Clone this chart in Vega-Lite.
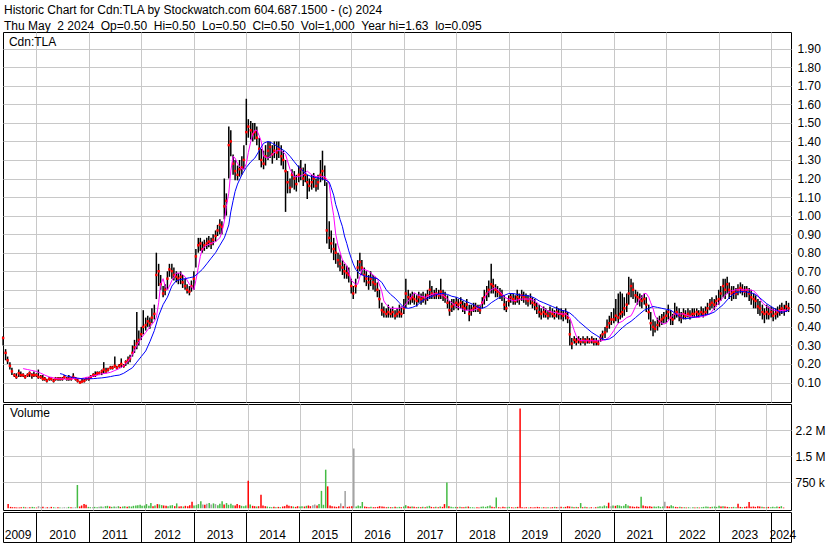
{
"$schema":"https://vega.github.io/schema/vega-lite/v6.json",
"background":"white",
"padding":{"left":1,"top":3,"right":0,"bottom":0},
"title":{"text":["Historic Chart for Cdn:TLA by Stockwatch.com 604.687.1500 - (c) 2024","Thu May\u00a0\u00a02 2024\u00a0\u00a0Op=0.50\u00a0\u00a0Hi=0.50\u00a0\u00a0Lo=0.50\u00a0\u00a0Cl=0.50\u00a0\u00a0Vol=1,000\u00a0\u00a0Year hi=1.63\u00a0\u00a0lo=0.095"],"anchor":"start","frame":"group","font":"Liberation Sans","fontSize":12,"fontWeight":"normal","color":"#000","lineHeight":16,"offset":-1,"dx":1},
"spacing":2,
"bounds":"flush",
"datasets":{
"px":[
{"d":"2009-05-15","h":0.35,"l":0.3,"c":0.34,"v":120,"s":"d"},
{"d":"2009-06-01","h":0.28,"l":0.22,"c":0.26,"v":40,"s":"d"},
{"d":"2009-06-15","h":0.24,"l":0.2,"c":0.22,"v":30,"s":"d"},
{"d":"2009-07-01","h":0.21,"l":0.17,"c":0.19,"v":30,"s":"d"},
{"d":"2009-07-15","h":0.18,"l":0.14,"c":0.16,"v":25,"s":"d"},
{"d":"2009-08-01","h":0.15,"l":0.13,"c":0.14,"v":20,"s":"d"},
{"d":"2009-08-15","h":0.15,"l":0.12,"c":0.13,"v":30,"s":"d"},
{"d":"2009-09-01","h":0.17,"l":0.13,"c":0.15,"v":40,"s":"u"},
{"d":"2009-09-15","h":0.16,"l":0.13,"c":0.14,"v":25,"s":"d"},
{"d":"2009-10-01","h":0.15,"l":0.13,"c":0.14,"v":20,"s":"n"},
{"d":"2009-10-15","h":0.14,"l":0.12,"c":0.13,"v":30,"s":"d"},
{"d":"2009-11-01","h":0.15,"l":0.13,"c":0.14,"v":40,"s":"u"},
{"d":"2009-11-15","h":0.16,"l":0.13,"c":0.15,"v":30,"s":"u"},
{"d":"2009-12-01","h":0.15,"l":0.12,"c":0.14,"v":20,"s":"d"},
{"d":"2009-12-15","h":0.16,"l":0.13,"c":0.14,"v":60,"s":"n"},
{"d":"2010-01-01","h":0.15,"l":0.13,"c":0.14,"v":30,"s":"n"},
{"d":"2010-01-15","h":0.17,"l":0.12,"c":0.13,"v":40,"s":"d"},
{"d":"2010-02-01","h":0.14,"l":0.12,"c":0.13,"v":20,"s":"n"},
{"d":"2010-02-15","h":0.14,"l":0.11,"c":0.12,"v":30,"s":"d"},
{"d":"2010-03-01","h":0.13,"l":0.11,"c":0.12,"v":20,"s":"n"},
{"d":"2010-03-15","h":0.12,"l":0.1,"c":0.11,"v":40,"s":"d"},
{"d":"2010-04-01","h":0.13,"l":0.11,"c":0.12,"v":30,"s":"u"},
{"d":"2010-04-15","h":0.13,"l":0.11,"c":0.12,"v":20,"s":"n"},
{"d":"2010-05-01","h":0.12,"l":0.1,"c":0.11,"v":30,"s":"d"},
{"d":"2010-05-15","h":0.13,"l":0.11,"c":0.12,"v":25,"s":"u"},
{"d":"2010-06-01","h":0.13,"l":0.11,"c":0.12,"v":20,"s":"n"},
{"d":"2010-06-15","h":0.13,"l":0.11,"c":0.12,"v":30,"s":"n"},
{"d":"2010-07-01","h":0.13,"l":0.11,"c":0.12,"v":20,"s":"n"},
{"d":"2010-07-15","h":0.14,"l":0.12,"c":0.13,"v":40,"s":"u"},
{"d":"2010-08-01","h":0.13,"l":0.11,"c":0.12,"v":30,"s":"d"},
{"d":"2010-08-15","h":0.14,"l":0.11,"c":0.12,"v":20,"s":"n"},
{"d":"2010-09-01","h":0.13,"l":0.11,"c":0.12,"v":30,"s":"n"},
{"d":"2010-09-15","h":0.15,"l":0.12,"c":0.13,"v":670,"s":"u"},
{"d":"2010-10-01","h":0.13,"l":0.11,"c":0.12,"v":50,"s":"d"},
{"d":"2010-10-15","h":0.12,"l":0.1,"c":0.11,"v":80,"s":"d"},
{"d":"2010-11-01","h":0.11,"l":0.095,"c":0.1,"v":120,"s":"d"},
{"d":"2010-11-15","h":0.12,"l":0.1,"c":0.105,"v":100,"s":"d"},
{"d":"2010-12-01","h":0.12,"l":0.1,"c":0.11,"v":40,"s":"u"},
{"d":"2010-12-15","h":0.13,"l":0.11,"c":0.12,"v":30,"s":"u"},
{"d":"2011-01-01","h":0.13,"l":0.11,"c":0.12,"v":30,"s":"n"},
{"d":"2011-01-15","h":0.14,"l":0.12,"c":0.13,"v":40,"s":"u"},
{"d":"2011-02-01","h":0.15,"l":0.13,"c":0.14,"v":30,"s":"u"},
{"d":"2011-02-15","h":0.16,"l":0.13,"c":0.14,"v":40,"s":"n"},
{"d":"2011-03-01","h":0.16,"l":0.14,"c":0.15,"v":50,"s":"u"},
{"d":"2011-03-15","h":0.16,"l":0.14,"c":0.15,"v":40,"s":"n"},
{"d":"2011-04-01","h":0.17,"l":0.14,"c":0.16,"v":60,"s":"u"},
{"d":"2011-04-15","h":0.21,"l":0.15,"c":0.17,"v":70,"s":"u"},
{"d":"2011-05-01","h":0.18,"l":0.15,"c":0.16,"v":50,"s":"d"},
{"d":"2011-05-15","h":0.18,"l":0.16,"c":0.17,"v":40,"s":"u"},
{"d":"2011-06-01","h":0.19,"l":0.17,"c":0.18,"v":50,"s":"u"},
{"d":"2011-06-15","h":0.19,"l":0.17,"c":0.18,"v":40,"s":"n"},
{"d":"2011-07-01","h":0.24,"l":0.18,"c":0.19,"v":60,"s":"u"},
{"d":"2011-07-15","h":0.19,"l":0.17,"c":0.18,"v":40,"s":"d"},
{"d":"2011-08-01","h":0.2,"l":0.18,"c":0.19,"v":50,"s":"u"},
{"d":"2011-08-15","h":0.23,"l":0.18,"c":0.2,"v":60,"s":"u"},
{"d":"2011-09-01","h":0.2,"l":0.18,"c":0.19,"v":40,"s":"d"},
{"d":"2011-09-15","h":0.22,"l":0.19,"c":0.21,"v":60,"s":"u"},
{"d":"2011-10-01","h":0.24,"l":0.2,"c":0.22,"v":50,"s":"u"},
{"d":"2011-10-15","h":0.25,"l":0.21,"c":0.23,"v":70,"s":"u"},
{"d":"2011-11-01","h":0.3,"l":0.24,"c":0.26,"v":80,"s":"u"},
{"d":"2011-11-15","h":0.33,"l":0.26,"c":0.29,"v":90,"s":"u"},
{"d":"2011-12-01","h":0.48,"l":0.28,"c":0.31,"v":100,"s":"u"},
{"d":"2011-12-15","h":0.38,"l":0.3,"c":0.33,"v":70,"s":"u"},
{"d":"2012-01-01","h":0.4,"l":0.33,"c":0.36,"v":80,"s":"u"},
{"d":"2012-01-15","h":0.49,"l":0.36,"c":0.4,"v":120,"s":"u"},
{"d":"2012-02-01","h":0.45,"l":0.38,"c":0.41,"v":70,"s":"u"},
{"d":"2012-02-15","h":0.46,"l":0.4,"c":0.43,"v":150,"s":"u"},
{"d":"2012-03-01","h":0.45,"l":0.39,"c":0.42,"v":60,"s":"d"},
{"d":"2012-03-15","h":0.5,"l":0.42,"c":0.45,"v":80,"s":"u"},
{"d":"2012-04-01","h":0.52,"l":0.44,"c":0.47,"v":120,"s":"d"},
{"d":"2012-04-15","h":0.8,"l":0.55,"c":0.68,"v":110,"s":"u"},
{"d":"2012-05-01","h":0.74,"l":0.62,"c":0.7,"v":90,"s":"u"},
{"d":"2012-05-15","h":0.68,"l":0.6,"c":0.63,"v":80,"s":"d"},
{"d":"2012-06-01","h":0.62,"l":0.56,"c":0.58,"v":70,"s":"d"},
{"d":"2012-06-15","h":0.63,"l":0.57,"c":0.6,"v":60,"s":"u"},
{"d":"2012-07-01","h":0.7,"l":0.6,"c":0.66,"v":80,"s":"u"},
{"d":"2012-07-15","h":0.74,"l":0.67,"c":0.71,"v":90,"s":"u"},
{"d":"2012-08-01","h":0.74,"l":0.66,"c":0.7,"v":60,"s":"d"},
{"d":"2012-08-15","h":0.72,"l":0.65,"c":0.68,"v":140,"s":"u"},
{"d":"2012-09-01","h":0.7,"l":0.64,"c":0.67,"v":50,"s":"d"},
{"d":"2012-09-15","h":0.69,"l":0.63,"c":0.66,"v":60,"s":"d"},
{"d":"2012-10-01","h":0.7,"l":0.63,"c":0.67,"v":50,"s":"u"},
{"d":"2012-10-15","h":0.68,"l":0.61,"c":0.64,"v":70,"s":"d"},
{"d":"2012-11-01","h":0.66,"l":0.6,"c":0.62,"v":60,"s":"d"},
{"d":"2012-11-15","h":0.63,"l":0.58,"c":0.6,"v":90,"s":"d"},
{"d":"2012-12-01","h":0.62,"l":0.57,"c":0.59,"v":190,"s":"d"},
{"d":"2012-12-15","h":0.65,"l":0.59,"c":0.62,"v":80,"s":"u"},
{"d":"2013-01-01","h":0.7,"l":0.6,"c":0.66,"v":90,"s":"u"},
{"d":"2013-01-15","h":0.82,"l":0.72,"c":0.78,"v":120,"s":"u"},
{"d":"2013-02-01","h":0.88,"l":0.8,"c":0.84,"v":200,"s":"u"},
{"d":"2013-02-15","h":0.88,"l":0.81,"c":0.85,"v":110,"s":"n"},
{"d":"2013-03-01","h":0.86,"l":0.8,"c":0.82,"v":100,"s":"d"},
{"d":"2013-03-15","h":0.87,"l":0.81,"c":0.84,"v":130,"s":"n"},
{"d":"2013-04-01","h":0.88,"l":0.82,"c":0.85,"v":150,"s":"u"},
{"d":"2013-04-15","h":0.89,"l":0.83,"c":0.86,"v":110,"s":"n"},
{"d":"2013-05-01","h":0.88,"l":0.82,"c":0.85,"v":140,"s":"u"},
{"d":"2013-05-15","h":0.9,"l":0.84,"c":0.87,"v":120,"s":"n"},
{"d":"2013-06-01","h":0.92,"l":0.86,"c":0.89,"v":90,"s":"u"},
{"d":"2013-06-15","h":0.95,"l":0.89,"c":0.92,"v":130,"s":"u"},
{"d":"2013-07-01","h":0.98,"l":0.9,"c":0.95,"v":200,"s":"u"},
{"d":"2013-07-15","h":0.97,"l":0.9,"c":0.94,"v":110,"s":"d"},
{"d":"2013-08-01","h":1.2,"l":0.98,"c":1.05,"v":150,"s":"u"},
{"d":"2013-08-15","h":1.12,"l":1.0,"c":1.08,"v":100,"s":"u"},
{"d":"2013-09-01","h":1.48,"l":1.2,"c":1.38,"v":130,"s":"u"},
{"d":"2013-09-15","h":1.46,"l":1.32,"c":1.4,"v":90,"s":"u"},
{"d":"2013-10-01","h":1.33,"l":1.22,"c":1.28,"v":80,"s":"d"},
{"d":"2013-10-15","h":1.3,"l":1.19,"c":1.24,"v":120,"s":"d"},
{"d":"2013-11-01","h":1.27,"l":1.19,"c":1.22,"v":90,"s":"d"},
{"d":"2013-11-15","h":1.3,"l":1.21,"c":1.25,"v":70,"s":"u"},
{"d":"2013-12-01","h":1.32,"l":1.22,"c":1.26,"v":60,"s":"u"},
{"d":"2013-12-15","h":1.38,"l":1.25,"c":1.3,"v":80,"s":"u"},
{"d":"2014-01-01","h":1.63,"l":1.38,"c":1.45,"v":790,"s":"d"},
{"d":"2014-01-15","h":1.52,"l":1.42,"c":1.48,"v":110,"s":"u"},
{"d":"2014-02-01","h":1.51,"l":1.41,"c":1.46,"v":70,"s":"d"},
{"d":"2014-02-15","h":1.5,"l":1.4,"c":1.44,"v":60,"s":"d"},
{"d":"2014-03-01","h":1.5,"l":1.41,"c":1.45,"v":50,"s":"u"},
{"d":"2014-03-15","h":1.48,"l":1.38,"c":1.42,"v":60,"s":"d"},
{"d":"2014-04-01","h":1.42,"l":1.3,"c":1.36,"v":390,"s":"d"},
{"d":"2014-04-15","h":1.36,"l":1.26,"c":1.3,"v":80,"s":"d"},
{"d":"2014-05-01","h":1.35,"l":1.25,"c":1.28,"v":60,"s":"d"},
{"d":"2014-05-15","h":1.38,"l":1.27,"c":1.32,"v":50,"s":"u"},
{"d":"2014-06-01","h":1.4,"l":1.3,"c":1.35,"v":40,"s":"u"},
{"d":"2014-06-15","h":1.4,"l":1.31,"c":1.37,"v":30,"s":"u"},
{"d":"2014-07-01","h":1.38,"l":1.28,"c":1.33,"v":40,"s":"d"},
{"d":"2014-07-15","h":1.4,"l":1.31,"c":1.35,"v":30,"s":"u"},
{"d":"2014-08-01","h":1.4,"l":1.3,"c":1.34,"v":40,"s":"d"},
{"d":"2014-08-15","h":1.4,"l":1.31,"c":1.36,"v":30,"s":"u"},
{"d":"2014-09-01","h":1.38,"l":1.27,"c":1.32,"v":50,"s":"d"},
{"d":"2014-09-15","h":1.35,"l":1.25,"c":1.3,"v":60,"s":"d"},
{"d":"2014-10-01","h":1.3,"l":1.02,"c":1.24,"v":100,"s":"d"},
{"d":"2014-10-15","h":1.24,"l":1.12,"c":1.18,"v":70,"s":"d"},
{"d":"2014-11-01","h":1.2,"l":1.12,"c":1.15,"v":60,"s":"d"},
{"d":"2014-11-15","h":1.25,"l":1.15,"c":1.22,"v":50,"s":"u"},
{"d":"2014-12-01","h":1.24,"l":1.14,"c":1.2,"v":40,"s":"d"},
{"d":"2014-12-15","h":1.22,"l":1.13,"c":1.17,"v":60,"s":"d"},
{"d":"2015-01-01","h":1.27,"l":1.18,"c":1.22,"v":50,"s":"u"},
{"d":"2015-01-15","h":1.3,"l":1.19,"c":1.25,"v":60,"s":"u"},
{"d":"2015-02-01","h":1.26,"l":1.16,"c":1.2,"v":50,"s":"d"},
{"d":"2015-02-15","h":1.28,"l":1.18,"c":1.22,"v":70,"s":"u"},
{"d":"2015-03-01","h":1.22,"l":1.09,"c":1.18,"v":80,"s":"d"},
{"d":"2015-03-15","h":1.2,"l":1.13,"c":1.16,"v":60,"s":"d"},
{"d":"2015-04-01","h":1.22,"l":1.14,"c":1.18,"v":90,"s":"n"},
{"d":"2015-04-15","h":1.23,"l":1.15,"c":1.2,"v":110,"s":"n"},
{"d":"2015-05-01","h":1.2,"l":1.13,"c":1.16,"v":80,"s":"d"},
{"d":"2015-05-15","h":1.22,"l":1.14,"c":1.18,"v":120,"s":"u"},
{"d":"2015-06-01","h":1.3,"l":1.18,"c":1.22,"v":500,"s":"u"},
{"d":"2015-06-15","h":1.35,"l":1.19,"c":1.24,"v":100,"s":"u"},
{"d":"2015-07-01","h":1.27,"l":1.16,"c":1.2,"v":1110,"s":"u"},
{"d":"2015-07-15","h":1.18,"l":0.85,"c":0.92,"v":630,"s":"d"},
{"d":"2015-08-01","h":0.97,"l":0.82,"c":0.88,"v":80,"s":"d"},
{"d":"2015-08-15","h":0.92,"l":0.8,"c":0.85,"v":60,"s":"d"},
{"d":"2015-09-01","h":0.88,"l":0.76,"c":0.82,"v":50,"s":"d"},
{"d":"2015-09-15","h":0.85,"l":0.74,"c":0.8,"v":40,"s":"d"},
{"d":"2015-10-01","h":0.8,"l":0.72,"c":0.76,"v":60,"s":"d"},
{"d":"2015-10-15","h":0.79,"l":0.7,"c":0.74,"v":140,"s":"n"},
{"d":"2015-11-01","h":0.76,"l":0.68,"c":0.72,"v":60,"s":"d"},
{"d":"2015-11-15","h":0.74,"l":0.66,"c":0.7,"v":500,"s":"n"},
{"d":"2015-12-01","h":0.73,"l":0.66,"c":0.69,"v":40,"s":"d"},
{"d":"2015-12-15","h":0.72,"l":0.64,"c":0.68,"v":50,"s":"d"},
{"d":"2016-01-01","h":0.66,"l":0.58,"c":0.62,"v":60,"s":"d"},
{"d":"2016-01-15","h":0.62,"l":0.55,"c":0.58,"v":1720,"s":"n"},
{"d":"2016-02-01","h":0.66,"l":0.58,"c":0.62,"v":50,"s":"u"},
{"d":"2016-02-15","h":0.76,"l":0.66,"c":0.72,"v":80,"s":"u"},
{"d":"2016-03-01","h":0.8,"l":0.7,"c":0.75,"v":60,"s":"u"},
{"d":"2016-03-15","h":0.76,"l":0.68,"c":0.72,"v":180,"s":"u"},
{"d":"2016-04-01","h":0.72,"l":0.64,"c":0.68,"v":50,"s":"d"},
{"d":"2016-04-15","h":0.7,"l":0.62,"c":0.66,"v":40,"s":"d"},
{"d":"2016-05-01","h":0.68,"l":0.6,"c":0.64,"v":30,"s":"d"},
{"d":"2016-05-15","h":0.7,"l":0.62,"c":0.66,"v":40,"s":"u"},
{"d":"2016-06-01","h":0.68,"l":0.6,"c":0.64,"v":30,"s":"d"},
{"d":"2016-06-15","h":0.67,"l":0.59,"c":0.63,"v":30,"s":"d"},
{"d":"2016-07-01","h":0.64,"l":0.56,"c":0.6,"v":40,"s":"d"},
{"d":"2016-07-15","h":0.6,"l":0.5,"c":0.55,"v":60,"s":"d"},
{"d":"2016-08-01","h":0.53,"l":0.46,"c":0.49,"v":50,"s":"d"},
{"d":"2016-08-15","h":0.51,"l":0.45,"c":0.48,"v":40,"s":"d"},
{"d":"2016-09-01","h":0.5,"l":0.45,"c":0.47,"v":30,"s":"d"},
{"d":"2016-09-15","h":0.52,"l":0.45,"c":0.48,"v":40,"s":"u"},
{"d":"2016-10-01","h":0.5,"l":0.45,"c":0.47,"v":30,"s":"d"},
{"d":"2016-10-15","h":0.51,"l":0.45,"c":0.48,"v":30,"s":"u"},
{"d":"2016-11-01","h":0.49,"l":0.44,"c":0.46,"v":40,"s":"d"},
{"d":"2016-11-15","h":0.5,"l":0.45,"c":0.47,"v":30,"s":"u"},
{"d":"2016-12-01","h":0.52,"l":0.45,"c":0.48,"v":40,"s":"u"},
{"d":"2016-12-15","h":0.51,"l":0.45,"c":0.47,"v":30,"s":"d"},
{"d":"2017-01-01","h":0.55,"l":0.47,"c":0.5,"v":50,"s":"u"},
{"d":"2017-01-15","h":0.66,"l":0.5,"c":0.58,"v":90,"s":"u"},
{"d":"2017-02-01","h":0.6,"l":0.52,"c":0.56,"v":60,"s":"d"},
{"d":"2017-02-15","h":0.58,"l":0.52,"c":0.55,"v":40,"s":"d"},
{"d":"2017-03-01","h":0.59,"l":0.53,"c":0.56,"v":50,"s":"u"},
{"d":"2017-03-15","h":0.58,"l":0.52,"c":0.55,"v":40,"s":"d"},
{"d":"2017-04-01","h":0.57,"l":0.51,"c":0.54,"v":30,"s":"d"},
{"d":"2017-04-15","h":0.59,"l":0.53,"c":0.56,"v":40,"s":"u"},
{"d":"2017-05-01","h":0.58,"l":0.52,"c":0.55,"v":30,"s":"d"},
{"d":"2017-05-15","h":0.59,"l":0.53,"c":0.56,"v":40,"s":"u"},
{"d":"2017-06-01","h":0.58,"l":0.52,"c":0.55,"v":30,"s":"d"},
{"d":"2017-06-15","h":0.6,"l":0.54,"c":0.57,"v":50,"s":"u"},
{"d":"2017-07-01","h":0.65,"l":0.55,"c":0.6,"v":70,"s":"u"},
{"d":"2017-07-15","h":0.62,"l":0.55,"c":0.58,"v":40,"s":"d"},
{"d":"2017-08-01","h":0.6,"l":0.55,"c":0.57,"v":30,"s":"d"},
{"d":"2017-08-15","h":0.61,"l":0.55,"c":0.58,"v":40,"s":"u"},
{"d":"2017-09-01","h":0.6,"l":0.55,"c":0.57,"v":30,"s":"d"},
{"d":"2017-09-15","h":0.66,"l":0.55,"c":0.59,"v":50,"s":"u"},
{"d":"2017-10-01","h":0.6,"l":0.54,"c":0.57,"v":40,"s":"d"},
{"d":"2017-10-15","h":0.59,"l":0.53,"c":0.56,"v":120,"s":"d"},
{"d":"2017-11-01","h":0.57,"l":0.5,"c":0.53,"v":740,"s":"u"},
{"d":"2017-11-15","h":0.54,"l":0.46,"c":0.49,"v":60,"s":"d"},
{"d":"2017-12-01","h":0.55,"l":0.48,"c":0.51,"v":40,"s":"u"},
{"d":"2017-12-15","h":0.55,"l":0.49,"c":0.52,"v":30,"s":"u"},
{"d":"2018-01-01","h":0.56,"l":0.5,"c":0.53,"v":40,"s":"u"},
{"d":"2018-01-15","h":0.55,"l":0.49,"c":0.52,"v":30,"s":"d"},
{"d":"2018-02-01","h":0.56,"l":0.5,"c":0.53,"v":40,"s":"u"},
{"d":"2018-02-15","h":0.54,"l":0.48,"c":0.51,"v":30,"s":"d"},
{"d":"2018-03-01","h":0.53,"l":0.47,"c":0.5,"v":30,"s":"d"},
{"d":"2018-03-15","h":0.55,"l":0.49,"c":0.52,"v":40,"s":"u"},
{"d":"2018-04-01","h":0.52,"l":0.43,"c":0.47,"v":50,"s":"d"},
{"d":"2018-04-15","h":0.52,"l":0.46,"c":0.49,"v":30,"s":"u"},
{"d":"2018-05-01","h":0.53,"l":0.48,"c":0.5,"v":30,"s":"u"},
{"d":"2018-05-15","h":0.53,"l":0.48,"c":0.51,"v":20,"s":"u"},
{"d":"2018-06-01","h":0.52,"l":0.48,"c":0.5,"v":30,"s":"d"},
{"d":"2018-06-15","h":0.52,"l":0.47,"c":0.49,"v":20,"s":"d"},
{"d":"2018-07-01","h":0.56,"l":0.5,"c":0.53,"v":40,"s":"u"},
{"d":"2018-07-15","h":0.6,"l":0.52,"c":0.56,"v":50,"s":"u"},
{"d":"2018-08-01","h":0.62,"l":0.54,"c":0.58,"v":40,"s":"u"},
{"d":"2018-08-15","h":0.65,"l":0.56,"c":0.6,"v":60,"s":"u"},
{"d":"2018-09-01","h":0.74,"l":0.58,"c":0.63,"v":80,"s":"u"},
{"d":"2018-09-15","h":0.66,"l":0.58,"c":0.62,"v":40,"s":"d"},
{"d":"2018-10-01","h":0.63,"l":0.56,"c":0.6,"v":30,"s":"d"},
{"d":"2018-10-15","h":0.62,"l":0.56,"c":0.59,"v":310,"s":"u"},
{"d":"2018-11-01","h":0.61,"l":0.55,"c":0.58,"v":30,"s":"d"},
{"d":"2018-11-15","h":0.6,"l":0.54,"c":0.57,"v":20,"s":"d"},
{"d":"2018-12-01","h":0.57,"l":0.49,"c":0.52,"v":40,"s":"d"},
{"d":"2018-12-15","h":0.54,"l":0.48,"c":0.5,"v":30,"s":"d"},
{"d":"2019-01-01","h":0.57,"l":0.51,"c":0.54,"v":30,"s":"u"},
{"d":"2019-01-15","h":0.58,"l":0.53,"c":0.56,"v":40,"s":"u"},
{"d":"2019-02-01","h":0.58,"l":0.52,"c":0.55,"v":30,"s":"d"},
{"d":"2019-02-15","h":0.57,"l":0.52,"c":0.54,"v":20,"s":"d"},
{"d":"2019-03-01","h":0.6,"l":0.53,"c":0.56,"v":30,"s":"u"},
{"d":"2019-03-15","h":0.58,"l":0.52,"c":0.55,"v":40,"s":"d"},
{"d":"2019-04-01","h":0.6,"l":0.54,"c":0.57,"v":2870,"s":"d"},
{"d":"2019-04-15","h":0.59,"l":0.53,"c":0.56,"v":30,"s":"d"},
{"d":"2019-05-01","h":0.58,"l":0.52,"c":0.55,"v":20,"s":"d"},
{"d":"2019-05-15","h":0.57,"l":0.51,"c":0.54,"v":30,"s":"d"},
{"d":"2019-06-01","h":0.58,"l":0.52,"c":0.55,"v":20,"s":"u"},
{"d":"2019-06-15","h":0.56,"l":0.5,"c":0.53,"v":30,"s":"d"},
{"d":"2019-07-01","h":0.55,"l":0.49,"c":0.52,"v":20,"s":"d"},
{"d":"2019-07-15","h":0.53,"l":0.47,"c":0.5,"v":30,"s":"d"},
{"d":"2019-08-01","h":0.52,"l":0.45,"c":0.48,"v":40,"s":"d"},
{"d":"2019-08-15","h":0.5,"l":0.44,"c":0.47,"v":30,"s":"d"},
{"d":"2019-09-01","h":0.51,"l":0.45,"c":0.48,"v":20,"s":"u"},
{"d":"2019-09-15","h":0.5,"l":0.45,"c":0.47,"v":30,"s":"d"},
{"d":"2019-10-01","h":0.49,"l":0.44,"c":0.46,"v":20,"s":"d"},
{"d":"2019-10-15","h":0.51,"l":0.45,"c":0.48,"v":30,"s":"u"},
{"d":"2019-11-01","h":0.5,"l":0.45,"c":0.47,"v":20,"s":"d"},
{"d":"2019-11-15","h":0.49,"l":0.44,"c":0.46,"v":30,"s":"d"},
{"d":"2019-12-01","h":0.51,"l":0.45,"c":0.48,"v":40,"s":"u"},
{"d":"2019-12-15","h":0.5,"l":0.44,"c":0.47,"v":30,"s":"d"},
{"d":"2020-01-01","h":0.5,"l":0.44,"c":0.47,"v":30,"s":"n"},
{"d":"2020-01-15","h":0.49,"l":0.43,"c":0.46,"v":40,"s":"d"},
{"d":"2020-02-01","h":0.5,"l":0.44,"c":0.47,"v":30,"s":"u"},
{"d":"2020-02-15","h":0.48,"l":0.42,"c":0.45,"v":40,"s":"d"},
{"d":"2020-03-01","h":0.44,"l":0.3,"c":0.36,"v":60,"s":"d"},
{"d":"2020-03-15","h":0.34,"l":0.28,"c":0.31,"v":50,"s":"d"},
{"d":"2020-04-01","h":0.35,"l":0.31,"c":0.33,"v":40,"s":"u"},
{"d":"2020-04-15","h":0.34,"l":0.3,"c":0.32,"v":30,"s":"d"},
{"d":"2020-05-01","h":0.35,"l":0.31,"c":0.33,"v":40,"s":"u"},
{"d":"2020-05-15","h":0.34,"l":0.3,"c":0.32,"v":30,"s":"d"},
{"d":"2020-06-01","h":0.35,"l":0.31,"c":0.33,"v":150,"s":"u"},
{"d":"2020-06-15","h":0.34,"l":0.3,"c":0.32,"v":30,"s":"d"},
{"d":"2020-07-01","h":0.35,"l":0.31,"c":0.33,"v":40,"s":"u"},
{"d":"2020-07-15","h":0.34,"l":0.31,"c":0.32,"v":30,"s":"d"},
{"d":"2020-08-01","h":0.35,"l":0.31,"c":0.33,"v":20,"s":"u"},
{"d":"2020-08-15","h":0.34,"l":0.3,"c":0.32,"v":30,"s":"d"},
{"d":"2020-09-01","h":0.34,"l":0.3,"c":0.32,"v":20,"s":"n"},
{"d":"2020-09-15","h":0.33,"l":0.3,"c":0.31,"v":30,"s":"d"},
{"d":"2020-10-01","h":0.36,"l":0.32,"c":0.34,"v":40,"s":"u"},
{"d":"2020-10-15","h":0.38,"l":0.33,"c":0.36,"v":60,"s":"u"},
{"d":"2020-11-01","h":0.4,"l":0.34,"c":0.37,"v":50,"s":"u"},
{"d":"2020-11-15","h":0.44,"l":0.37,"c":0.4,"v":80,"s":"u"},
{"d":"2020-12-01","h":0.46,"l":0.39,"c":0.42,"v":60,"s":"u"},
{"d":"2020-12-15","h":0.48,"l":0.41,"c":0.44,"v":160,"s":"d"},
{"d":"2021-01-01","h":0.5,"l":0.42,"c":0.44,"v":60,"s":"n"},
{"d":"2021-01-15","h":0.55,"l":0.43,"c":0.46,"v":80,"s":"u"},
{"d":"2021-02-01","h":0.58,"l":0.42,"c":0.45,"v":70,"s":"d"},
{"d":"2021-02-15","h":0.59,"l":0.44,"c":0.47,"v":90,"s":"u"},
{"d":"2021-03-01","h":0.58,"l":0.45,"c":0.48,"v":80,"s":"u"},
{"d":"2021-03-15","h":0.56,"l":0.46,"c":0.5,"v":60,"s":"u"},
{"d":"2021-04-01","h":0.58,"l":0.48,"c":0.52,"v":70,"s":"u"},
{"d":"2021-04-15","h":0.67,"l":0.52,"c":0.58,"v":120,"s":"u"},
{"d":"2021-05-01","h":0.66,"l":0.56,"c":0.62,"v":80,"s":"u"},
{"d":"2021-05-15","h":0.64,"l":0.55,"c":0.6,"v":60,"s":"d"},
{"d":"2021-06-01","h":0.6,"l":0.53,"c":0.57,"v":50,"s":"d"},
{"d":"2021-06-15","h":0.59,"l":0.52,"c":0.56,"v":40,"s":"d"},
{"d":"2021-07-01","h":0.58,"l":0.51,"c":0.55,"v":50,"s":"d"},
{"d":"2021-07-15","h":0.57,"l":0.5,"c":0.54,"v":40,"s":"d"},
{"d":"2021-08-01","h":0.58,"l":0.52,"c":0.55,"v":330,"s":"u"},
{"d":"2021-08-15","h":0.56,"l":0.48,"c":0.52,"v":80,"s":"d"},
{"d":"2021-09-01","h":0.52,"l":0.44,"c":0.48,"v":60,"s":"d"},
{"d":"2021-09-15","h":0.48,"l":0.38,"c":0.42,"v":50,"s":"d"},
{"d":"2021-10-01","h":0.44,"l":0.35,"c":0.4,"v":60,"s":"d"},
{"d":"2021-10-15","h":0.43,"l":0.37,"c":0.39,"v":40,"s":"d"},
{"d":"2021-11-01","h":0.45,"l":0.38,"c":0.41,"v":50,"s":"u"},
{"d":"2021-11-15","h":0.46,"l":0.4,"c":0.43,"v":40,"s":"u"},
{"d":"2021-12-01","h":0.47,"l":0.41,"c":0.44,"v":60,"s":"u"},
{"d":"2021-12-15","h":0.48,"l":0.42,"c":0.45,"v":40,"s":"u"},
{"d":"2022-01-01","h":0.49,"l":0.42,"c":0.46,"v":50,"s":"u"},
{"d":"2022-01-15","h":0.52,"l":0.44,"c":0.48,"v":190,"s":"n"},
{"d":"2022-02-01","h":0.49,"l":0.41,"c":0.45,"v":60,"s":"d"},
{"d":"2022-02-15","h":0.47,"l":0.41,"c":0.44,"v":50,"s":"d"},
{"d":"2022-03-01","h":0.53,"l":0.44,"c":0.47,"v":90,"s":"u"},
{"d":"2022-03-15","h":0.51,"l":0.45,"c":0.48,"v":60,"s":"u"},
{"d":"2022-04-01","h":0.5,"l":0.43,"c":0.46,"v":40,"s":"d"},
{"d":"2022-04-15","h":0.48,"l":0.42,"c":0.45,"v":30,"s":"d"},
{"d":"2022-05-01","h":0.5,"l":0.44,"c":0.47,"v":40,"s":"u"},
{"d":"2022-05-15","h":0.49,"l":0.44,"c":0.46,"v":30,"s":"d"},
{"d":"2022-06-01","h":0.5,"l":0.45,"c":0.47,"v":30,"s":"u"},
{"d":"2022-06-15","h":0.49,"l":0.44,"c":0.46,"v":20,"s":"d"},
{"d":"2022-07-01","h":0.5,"l":0.45,"c":0.47,"v":30,"s":"u"},
{"d":"2022-07-15","h":0.5,"l":0.45,"c":0.47,"v":20,"s":"n"},
{"d":"2022-08-01","h":0.5,"l":0.45,"c":0.48,"v":30,"s":"u"},
{"d":"2022-08-15","h":0.49,"l":0.45,"c":0.47,"v":20,"s":"d"},
{"d":"2022-09-01","h":0.51,"l":0.46,"c":0.48,"v":30,"s":"u"},
{"d":"2022-09-15","h":0.5,"l":0.45,"c":0.47,"v":20,"s":"d"},
{"d":"2022-10-01","h":0.51,"l":0.46,"c":0.48,"v":30,"s":"u"},
{"d":"2022-10-15","h":0.53,"l":0.47,"c":0.5,"v":40,"s":"u"},
{"d":"2022-11-01","h":0.55,"l":0.49,"c":0.52,"v":50,"s":"u"},
{"d":"2022-11-15","h":0.56,"l":0.5,"c":0.53,"v":40,"s":"u"},
{"d":"2022-12-01","h":0.55,"l":0.49,"c":0.52,"v":30,"s":"d"},
{"d":"2022-12-15","h":0.57,"l":0.51,"c":0.54,"v":40,"s":"u"},
{"d":"2023-01-01","h":0.6,"l":0.52,"c":0.55,"v":50,"s":"u"},
{"d":"2023-01-15","h":0.62,"l":0.54,"c":0.58,"v":40,"s":"u"},
{"d":"2023-02-01","h":0.66,"l":0.56,"c":0.62,"v":70,"s":"u"},
{"d":"2023-02-15","h":0.66,"l":0.55,"c":0.6,"v":50,"s":"d"},
{"d":"2023-03-01","h":0.67,"l":0.58,"c":0.63,"v":60,"s":"u"},
{"d":"2023-03-15","h":0.64,"l":0.55,"c":0.6,"v":50,"s":"d"},
{"d":"2023-04-01","h":0.62,"l":0.54,"c":0.58,"v":40,"s":"d"},
{"d":"2023-04-15","h":0.62,"l":0.55,"c":0.59,"v":30,"s":"u"},
{"d":"2023-05-01","h":0.61,"l":0.55,"c":0.58,"v":30,"s":"d"},
{"d":"2023-05-15","h":0.63,"l":0.57,"c":0.6,"v":40,"s":"u"},
{"d":"2023-06-01","h":0.64,"l":0.58,"c":0.61,"v":30,"s":"u"},
{"d":"2023-06-15","h":0.63,"l":0.57,"c":0.6,"v":130,"s":"d"},
{"d":"2023-07-01","h":0.62,"l":0.56,"c":0.59,"v":40,"s":"d"},
{"d":"2023-07-15","h":0.62,"l":0.56,"c":0.6,"v":30,"s":"u"},
{"d":"2023-08-01","h":0.61,"l":0.54,"c":0.58,"v":40,"s":"d"},
{"d":"2023-08-15","h":0.6,"l":0.52,"c":0.56,"v":50,"s":"d"},
{"d":"2023-09-01","h":0.58,"l":0.5,"c":0.55,"v":180,"s":"d"},
{"d":"2023-09-15","h":0.57,"l":0.5,"c":0.54,"v":40,"s":"d"},
{"d":"2023-10-01","h":0.55,"l":0.47,"c":0.51,"v":50,"s":"d"},
{"d":"2023-10-15","h":0.54,"l":0.46,"c":0.5,"v":40,"s":"d"},
{"d":"2023-11-01","h":0.52,"l":0.44,"c":0.48,"v":60,"s":"d"},
{"d":"2023-11-15","h":0.5,"l":0.42,"c":0.47,"v":50,"s":"d"},
{"d":"2023-12-01","h":0.52,"l":0.44,"c":0.48,"v":40,"s":"u"},
{"d":"2023-12-15","h":0.51,"l":0.44,"c":0.47,"v":30,"s":"d"},
{"d":"2024-01-01","h":0.51,"l":0.45,"c":0.48,"v":30,"s":"u"},
{"d":"2024-01-15","h":0.5,"l":0.43,"c":0.46,"v":40,"s":"d"},
{"d":"2024-02-01","h":0.5,"l":0.44,"c":0.47,"v":30,"s":"u"},
{"d":"2024-02-15","h":0.51,"l":0.45,"c":0.48,"v":40,"s":"u"},
{"d":"2024-03-01","h":0.52,"l":0.46,"c":0.49,"v":30,"s":"u"},
{"d":"2024-03-15","h":0.53,"l":0.47,"c":0.5,"v":50,"s":"u"},
{"d":"2024-04-01","h":0.52,"l":0.46,"c":0.49,"v":40,"s":"d"},
{"d":"2024-04-15","h":0.54,"l":0.48,"c":0.51,"v":60,"s":"u"},
{"d":"2024-05-01","h":0.53,"l":0.48,"c":0.5,"v":20,"s":"d"}
],
"mag":[
{"d":"2009-10-01","v":0.175},{"d":"2009-11-01","v":0.17},{"d":"2009-12-01","v":0.165},
{"d":"2010-01-01","v":0.16},{"d":"2010-02-01","v":0.15},{"d":"2010-03-01","v":0.14},{"d":"2010-04-01","v":0.13},{"d":"2010-05-01","v":0.125},{"d":"2010-06-01","v":0.12},{"d":"2010-07-01","v":0.12},{"d":"2010-08-01","v":0.118},{"d":"2010-09-01","v":0.12},{"d":"2010-10-01","v":0.122},{"d":"2010-11-01","v":0.12},{"d":"2010-12-01","v":0.125},
{"d":"2011-01-01","v":0.13},{"d":"2011-02-01","v":0.135},{"d":"2011-03-01","v":0.14},{"d":"2011-04-01","v":0.147},{"d":"2011-05-01","v":0.15},{"d":"2011-06-01","v":0.155},{"d":"2011-07-01","v":0.165},{"d":"2011-08-01","v":0.175},{"d":"2011-09-01","v":0.19},{"d":"2011-10-01","v":0.215},{"d":"2011-11-01","v":0.25},{"d":"2011-12-01","v":0.3},
{"d":"2012-01-01","v":0.34},{"d":"2012-02-01","v":0.37},{"d":"2012-03-01","v":0.4},{"d":"2012-04-01","v":0.43},{"d":"2012-04-15","v":0.45},{"d":"2012-05-01","v":0.53},{"d":"2012-05-15","v":0.63},{"d":"2012-06-01","v":0.66},{"d":"2012-06-15","v":0.62},{"d":"2012-07-01","v":0.6},{"d":"2012-07-15","v":0.62},{"d":"2012-08-01","v":0.65},{"d":"2012-09-01","v":0.69},{"d":"2012-10-01","v":0.69},{"d":"2012-11-01","v":0.67},{"d":"2012-12-01","v":0.63},
{"d":"2013-01-01","v":0.6},{"d":"2013-01-15","v":0.65},{"d":"2013-02-01","v":0.72},{"d":"2013-02-15","v":0.78},{"d":"2013-03-01","v":0.82},{"d":"2013-04-01","v":0.84},{"d":"2013-05-01","v":0.85},{"d":"2013-06-01","v":0.86},{"d":"2013-07-01","v":0.88},{"d":"2013-07-15","v":0.91},{"d":"2013-08-01","v":0.97},{"d":"2013-08-15","v":1.05},{"d":"2013-09-01","v":1.12},{"d":"2013-09-15","v":1.24},{"d":"2013-10-01","v":1.32},{"d":"2013-10-15","v":1.31},{"d":"2013-11-01","v":1.28},{"d":"2013-12-01","v":1.25},{"d":"2013-12-15","v":1.25},
{"d":"2014-01-01","v":1.28},{"d":"2014-01-15","v":1.34},{"d":"2014-02-01","v":1.4},{"d":"2014-02-15","v":1.44},{"d":"2014-03-01","v":1.46},{"d":"2014-03-15","v":1.46},{"d":"2014-04-01","v":1.43},{"d":"2014-04-15","v":1.4},{"d":"2014-05-01","v":1.32},{"d":"2014-06-01","v":1.31},{"d":"2014-07-01","v":1.33},{"d":"2014-08-01","v":1.35},{"d":"2014-09-01","v":1.35},{"d":"2014-10-01","v":1.33},{"d":"2014-11-01","v":1.25},{"d":"2014-12-01","v":1.21},
{"d":"2015-01-01","v":1.21},{"d":"2015-02-01","v":1.22},{"d":"2015-03-01","v":1.24},{"d":"2015-04-01","v":1.22},{"d":"2015-05-01","v":1.21},{"d":"2015-06-01","v":1.21},{"d":"2015-07-01","v":1.21},{"d":"2015-07-20","v":1.19},{"d":"2015-08-01","v":1.17},{"d":"2015-08-15","v":1.08},{"d":"2015-09-01","v":1.0},{"d":"2015-09-15","v":0.9},{"d":"2015-10-01","v":0.84},{"d":"2015-11-01","v":0.76},{"d":"2015-12-01","v":0.73},
{"d":"2016-01-01","v":0.65},{"d":"2016-02-01","v":0.63},{"d":"2016-02-15","v":0.63},{"d":"2016-03-01","v":0.67},{"d":"2016-03-15","v":0.71},{"d":"2016-04-01","v":0.71},{"d":"2016-05-01","v":0.7},{"d":"2016-06-01","v":0.68},{"d":"2016-07-01","v":0.66},{"d":"2016-08-01","v":0.59},{"d":"2016-08-15","v":0.54},{"d":"2016-09-01","v":0.52},{"d":"2016-10-01","v":0.5},{"d":"2016-11-01","v":0.5},{"d":"2016-12-01","v":0.5},
{"d":"2017-01-01","v":0.51},{"d":"2017-02-01","v":0.54},{"d":"2017-03-01","v":0.57},{"d":"2017-03-15","v":0.585},{"d":"2017-04-01","v":0.575},{"d":"2017-05-01","v":0.565},{"d":"2017-06-01","v":0.56},{"d":"2017-07-01","v":0.57},{"d":"2017-08-01","v":0.58},{"d":"2017-09-01","v":0.575},{"d":"2017-10-01","v":0.57},{"d":"2017-11-01","v":0.55},{"d":"2017-12-01","v":0.53},
{"d":"2018-01-01","v":0.51},{"d":"2018-02-01","v":0.5},{"d":"2018-03-01","v":0.49},{"d":"2018-04-01","v":0.49},{"d":"2018-05-01","v":0.49},{"d":"2018-06-01","v":0.5},{"d":"2018-07-01","v":0.53},{"d":"2018-08-01","v":0.58},{"d":"2018-09-01","v":0.6},{"d":"2018-10-01","v":0.61},{"d":"2018-11-01","v":0.59},{"d":"2018-12-01","v":0.56},
{"d":"2019-01-01","v":0.55},{"d":"2019-02-01","v":0.54},{"d":"2019-03-01","v":0.545},{"d":"2019-04-01","v":0.55},{"d":"2019-05-01","v":0.55},{"d":"2019-06-01","v":0.55},{"d":"2019-07-01","v":0.54},{"d":"2019-08-01","v":0.52},{"d":"2019-09-01","v":0.5},{"d":"2019-10-01","v":0.485},{"d":"2019-11-01","v":0.48},{"d":"2019-12-01","v":0.475},
{"d":"2020-01-01","v":0.47},{"d":"2020-02-01","v":0.47},{"d":"2020-03-01","v":0.45},{"d":"2020-03-15","v":0.42},{"d":"2020-04-01","v":0.38},{"d":"2020-04-15","v":0.35},{"d":"2020-05-01","v":0.33},{"d":"2020-06-01","v":0.325},{"d":"2020-07-01","v":0.325},{"d":"2020-08-01","v":0.325},{"d":"2020-09-01","v":0.325},{"d":"2020-10-01","v":0.325},{"d":"2020-11-01","v":0.33},{"d":"2020-12-01","v":0.345},
{"d":"2021-01-01","v":0.38},{"d":"2021-01-15","v":0.4},{"d":"2021-02-01","v":0.42},{"d":"2021-03-01","v":0.43},{"d":"2021-04-01","v":0.45},{"d":"2021-05-01","v":0.46},{"d":"2021-05-15","v":0.48},{"d":"2021-06-01","v":0.51},{"d":"2021-06-15","v":0.53},{"d":"2021-07-01","v":0.55},{"d":"2021-07-15","v":0.56},{"d":"2021-08-01","v":0.58},{"d":"2021-08-15","v":0.58},{"d":"2021-09-01","v":0.56},{"d":"2021-09-15","v":0.53},{"d":"2021-10-01","v":0.5},{"d":"2021-10-15","v":0.46},{"d":"2021-11-01","v":0.44},{"d":"2021-11-15","v":0.43},{"d":"2021-12-01","v":0.42},{"d":"2021-12-15","v":0.415},
{"d":"2022-01-01","v":0.42},{"d":"2022-02-01","v":0.45},{"d":"2022-03-01","v":0.47},{"d":"2022-04-01","v":0.47},{"d":"2022-05-01","v":0.47},{"d":"2022-06-01","v":0.46},{"d":"2022-07-01","v":0.455},{"d":"2022-08-01","v":0.45},{"d":"2022-09-01","v":0.455},{"d":"2022-10-01","v":0.46},{"d":"2022-11-01","v":0.47},{"d":"2022-12-01","v":0.5},
{"d":"2023-01-01","v":0.53},{"d":"2023-02-01","v":0.56},{"d":"2023-03-01","v":0.58},{"d":"2023-04-01","v":0.595},{"d":"2023-05-01","v":0.6},{"d":"2023-06-01","v":0.6},{"d":"2023-07-01","v":0.6},{"d":"2023-08-01","v":0.6},{"d":"2023-09-01","v":0.595},{"d":"2023-10-01","v":0.57},{"d":"2023-11-01","v":0.53},{"d":"2023-12-01","v":0.51},
{"d":"2024-01-01","v":0.495},{"d":"2024-02-01","v":0.487},{"d":"2024-03-01","v":0.487},{"d":"2024-04-01","v":0.49},{"d":"2024-05-01","v":0.49}
],
"blu":[
{"d":"2010-06-15","v":0.148},{"d":"2010-07-01","v":0.145},{"d":"2010-08-01","v":0.135},{"d":"2010-09-01","v":0.13},{"d":"2010-10-01","v":0.125},{"d":"2010-11-01","v":0.122},{"d":"2010-12-01","v":0.12},
{"d":"2011-01-01","v":0.12},{"d":"2011-02-01","v":0.121},{"d":"2011-03-01","v":0.123},{"d":"2011-04-01","v":0.125},{"d":"2011-05-01","v":0.128},{"d":"2011-06-01","v":0.132},{"d":"2011-07-01","v":0.137},{"d":"2011-08-01","v":0.14},{"d":"2011-09-01","v":0.15},{"d":"2011-10-01","v":0.165},{"d":"2011-11-01","v":0.18},{"d":"2011-12-01","v":0.21},
{"d":"2012-01-01","v":0.24},{"d":"2012-02-01","v":0.27},{"d":"2012-03-01","v":0.32},{"d":"2012-04-01","v":0.38},{"d":"2012-05-01","v":0.46},{"d":"2012-06-01","v":0.52},{"d":"2012-07-01","v":0.56},{"d":"2012-08-01","v":0.62},{"d":"2012-09-01","v":0.65},{"d":"2012-10-01","v":0.655},{"d":"2012-11-01","v":0.66},{"d":"2012-12-01","v":0.665},
{"d":"2013-01-01","v":0.67},{"d":"2013-02-01","v":0.69},{"d":"2013-03-01","v":0.71},{"d":"2013-04-01","v":0.74},{"d":"2013-05-01","v":0.77},{"d":"2013-06-01","v":0.8},{"d":"2013-07-01","v":0.84},{"d":"2013-08-01","v":0.88},{"d":"2013-08-15","v":0.91},{"d":"2013-09-01","v":0.95},{"d":"2013-09-15","v":1.02},{"d":"2013-10-01","v":1.08},{"d":"2013-10-15","v":1.13},{"d":"2013-11-01","v":1.17},{"d":"2013-12-01","v":1.22},
{"d":"2014-01-01","v":1.26},{"d":"2014-02-01","v":1.29},{"d":"2014-03-01","v":1.31},{"d":"2014-04-01","v":1.35},{"d":"2014-05-01","v":1.39},{"d":"2014-06-01","v":1.4},{"d":"2014-07-01","v":1.39},{"d":"2014-08-01","v":1.375},{"d":"2014-09-01","v":1.36},{"d":"2014-10-01","v":1.345},{"d":"2014-11-01","v":1.32},{"d":"2014-12-01","v":1.29},
{"d":"2015-01-01","v":1.26},{"d":"2015-02-01","v":1.24},{"d":"2015-03-01","v":1.22},{"d":"2015-04-01","v":1.21},{"d":"2015-05-01","v":1.205},{"d":"2015-06-01","v":1.2},{"d":"2015-07-01","v":1.195},{"d":"2015-08-01","v":1.18},{"d":"2015-08-15","v":1.15},{"d":"2015-09-01","v":1.11},{"d":"2015-09-15","v":1.06},{"d":"2015-10-01","v":1.02},{"d":"2015-10-15","v":0.98},{"d":"2015-11-01","v":0.94},{"d":"2015-11-15","v":0.89},{"d":"2015-12-01","v":0.85},{"d":"2015-12-15","v":0.81},
{"d":"2016-01-01","v":0.77},{"d":"2016-01-15","v":0.74},{"d":"2016-02-01","v":0.71},{"d":"2016-03-01","v":0.685},{"d":"2016-04-01","v":0.675},{"d":"2016-05-01","v":0.67},{"d":"2016-06-01","v":0.665},{"d":"2016-07-01","v":0.66},{"d":"2016-08-01","v":0.64},{"d":"2016-09-01","v":0.6},{"d":"2016-10-01","v":0.575},{"d":"2016-11-01","v":0.555},{"d":"2016-12-01","v":0.53},
{"d":"2017-01-01","v":0.505},{"d":"2017-02-01","v":0.5},{"d":"2017-03-01","v":0.505},{"d":"2017-04-01","v":0.515},{"d":"2017-05-01","v":0.535},{"d":"2017-06-01","v":0.55},{"d":"2017-07-01","v":0.56},{"d":"2017-08-01","v":0.57},{"d":"2017-09-01","v":0.578},{"d":"2017-10-01","v":0.58},{"d":"2017-11-01","v":0.575},{"d":"2017-12-01","v":0.565},
{"d":"2018-01-01","v":0.56},{"d":"2018-02-01","v":0.55},{"d":"2018-03-01","v":0.54},{"d":"2018-04-01","v":0.53},{"d":"2018-05-01","v":0.52},{"d":"2018-06-01","v":0.505},{"d":"2018-07-01","v":0.5},{"d":"2018-08-01","v":0.51},{"d":"2018-09-01","v":0.53},{"d":"2018-10-01","v":0.545},{"d":"2018-11-01","v":0.56},{"d":"2018-12-01","v":0.57},
{"d":"2019-01-01","v":0.58},{"d":"2019-02-01","v":0.58},{"d":"2019-03-01","v":0.575},{"d":"2019-04-01","v":0.57},{"d":"2019-05-01","v":0.57},{"d":"2019-06-01","v":0.565},{"d":"2019-07-01","v":0.555},{"d":"2019-08-01","v":0.54},{"d":"2019-09-01","v":0.53},{"d":"2019-10-01","v":0.52},{"d":"2019-11-01","v":0.51},{"d":"2019-12-01","v":0.5},
{"d":"2020-01-01","v":0.49},{"d":"2020-02-01","v":0.485},{"d":"2020-03-01","v":0.475},{"d":"2020-04-01","v":0.455},{"d":"2020-05-01","v":0.43},{"d":"2020-06-01","v":0.41},{"d":"2020-07-01","v":0.39},{"d":"2020-08-01","v":0.37},{"d":"2020-09-01","v":0.355},{"d":"2020-10-01","v":0.34},{"d":"2020-11-01","v":0.33},{"d":"2020-12-01","v":0.335},
{"d":"2021-01-01","v":0.35},{"d":"2021-02-01","v":0.375},{"d":"2021-03-01","v":0.395},{"d":"2021-04-01","v":0.415},{"d":"2021-05-01","v":0.43},{"d":"2021-06-01","v":0.45},{"d":"2021-07-01","v":0.47},{"d":"2021-08-01","v":0.49},{"d":"2021-09-01","v":0.5},{"d":"2021-10-01","v":0.51},{"d":"2021-11-01","v":0.505},{"d":"2021-12-01","v":0.5},
{"d":"2022-01-01","v":0.495},{"d":"2022-02-01","v":0.49},{"d":"2022-03-01","v":0.475},{"d":"2022-04-01","v":0.455},{"d":"2022-05-01","v":0.445},{"d":"2022-06-01","v":0.445},{"d":"2022-07-01","v":0.45},{"d":"2022-08-01","v":0.455},{"d":"2022-09-01","v":0.46},{"d":"2022-10-01","v":0.465},{"d":"2022-11-01","v":0.47},{"d":"2022-12-01","v":0.48},
{"d":"2023-01-01","v":0.5},{"d":"2023-02-01","v":0.52},{"d":"2023-03-01","v":0.545},{"d":"2023-04-01","v":0.57},{"d":"2023-05-01","v":0.585},{"d":"2023-06-01","v":0.59},{"d":"2023-07-01","v":0.59},{"d":"2023-08-01","v":0.585},{"d":"2023-09-01","v":0.58},{"d":"2023-10-01","v":0.565},{"d":"2023-11-01","v":0.545},{"d":"2023-12-01","v":0.525},
{"d":"2024-01-01","v":0.51},{"d":"2024-02-01","v":0.495},{"d":"2024-03-01","v":0.48},{"d":"2024-04-01","v":0.48},{"d":"2024-05-01","v":0.49}
],
"yrs":[
{"y":"2009","d":"2009-08-27"},{"y":"2010","d":"2010-07-02"},{"y":"2011","d":"2011-07-02"},{"y":"2012","d":"2012-07-02"},{"y":"2013","d":"2013-07-02"},{"y":"2014","d":"2014-07-02"},{"y":"2015","d":"2015-07-02"},{"y":"2016","d":"2016-07-02"},{"y":"2017","d":"2017-07-02"},{"y":"2018","d":"2018-07-02"},{"y":"2019","d":"2019-07-02"},{"y":"2020","d":"2020-07-02"},{"y":"2021","d":"2021-07-02"},{"y":"2022","d":"2022-07-02"},{"y":"2023","d":"2023-07-02"},{"y":"2024","d":"2024-03-22"}
]
},
"vconcat":[
{
"width":788,"height":370,
"title":{"text":"Cdn:TLA","anchor":"start","orient":"top","offset":-26,"dx":7,"baseline":"alphabetic","font":"Liberation Sans","fontSize":12,"fontWeight":"normal","color":"#000"},
"layer":[
{"data":{"name":"px"},"mark":{"type":"rule","color":"#000","strokeWidth":1.5},
"encoding":{
"x":{"field":"d","type":"temporal","scale":{"domain":[{"year":2009,"month":5,"date":14},{"year":2024,"month":5,"date":18}]},"axis":{"grid":true,"gridColor":"#c8c8c8","labels":false,"ticks":false,"tickSize":0,"labelPadding":0,"domain":false,"title":null,"minExtent":0,"maxExtent":0,"tickCount":{"interval":"year","step":1}}},
"y":{"field":"l","type":"quantitative","scale":{"domain":[-0.005,1.99],"nice":false,"zero":false},"axis":{"orient":"right","values":[0.1,0.2,0.3,0.4,0.5,0.6,0.7,0.8,0.9,1.0,1.1,1.2,1.3,1.4,1.5,1.6,1.7,1.8,1.9],"tickCount":25,"format":".2f","labelOverlap":false,"labelBound":false,"grid":true,"gridColor":"#c8c8c8","ticks":false,"domain":false,"title":null,"labelPadding":6,"labelFont":"Liberation Sans","labelFontSize":12,"labelColor":"#000"}},
"y2":{"field":"h"}}},
{"data":{"name":"px"},"mark":{"type":"square","color":"#ff0000","size":6,"opacity":1},
"encoding":{"x":{"field":"d","type":"temporal"},"y":{"field":"c","type":"quantitative"}}},
{"data":{"name":"mag"},"mark":{"type":"line","color":"#ff00ff","strokeWidth":1},
"encoding":{"x":{"field":"d","type":"temporal"},"y":{"field":"v","type":"quantitative"}}},
{"data":{"name":"blu"},"mark":{"type":"line","color":"#0000ff","strokeWidth":1},
"encoding":{"x":{"field":"d","type":"temporal"},"y":{"field":"v","type":"quantitative"}}}
]
},
{
"spacing":2,
"bounds":"flush",
"vconcat":[
{
"width":788,"height":106,
"title":{"text":"Volume","anchor":"start","orient":"top","offset":-25,"dx":7,"baseline":"alphabetic","font":"Liberation Sans","fontSize":12,"fontWeight":"normal","color":"#000"},
"data":{"name":"px"},
"mark":{"type":"bar","size":1.5},
"encoding":{
"x":{"field":"d","type":"temporal","scale":{"domain":[{"year":2009,"month":5,"date":14},{"year":2024,"month":5,"date":18}]},"axis":{"grid":true,"gridColor":"#c8c8c8","labels":false,"ticks":false,"tickSize":0,"labelPadding":0,"domain":false,"title":null,"minExtent":0,"maxExtent":0,"tickCount":{"interval":"year","step":1}}},
"y":{"field":"v","type":"quantitative","scale":{"domain":[-50,3000],"nice":false,"zero":false},"axis":{"orient":"right","values":[750,1500,2250],"labelExpr":"datum.value == 750 ? '750 k' : datum.value == 1500 ? '1.5 M' : '2.2 M'","labelOverlap":false,"grid":true,"gridColor":"#c8c8c8","ticks":false,"domain":false,"title":null,"labelPadding":4,"labelFont":"Liberation Sans","labelFontSize":12,"labelColor":"#000"}},
"color":{"field":"s","type":"nominal","scale":{"domain":["u","d","n"],"range":["#44bb44","#ff0000","#a0a0a0"]},"legend":null}
}
},
{
"width":788,"height":30,
"layer":[
{"data":{"name":"yrs"},"mark":{"type":"text","font":"Liberation Sans","fontSize":12,"color":"#000","baseline":"middle","align":"center"},
"encoding":{
"x":{"field":"d","type":"temporal","scale":{"domain":[{"year":2009,"month":5,"date":14},{"year":2024,"month":5,"date":18}]},"axis":{"grid":true,"gridColor":"#000","labels":false,"ticks":false,"tickSize":0,"labelPadding":0,"domain":false,"title":null,"minExtent":0,"maxExtent":0,"tickCount":{"interval":"year","step":1}}},
"y":{"datum":0.22,"type":"quantitative","scale":{"domain":[0,1]},"axis":null},
"text":{"field":"y"}}},
{"mark":{"type":"rule","color":"#000","strokeWidth":1},"encoding":{"y":{"datum":0.47,"type":"quantitative"}}}
]
}
]
}
],
"config":{"view":{"stroke":"#000","strokeWidth":1},"axis":{"gridOpacity":1,"gridWidth":1,"labelOverlap":false}}
}
